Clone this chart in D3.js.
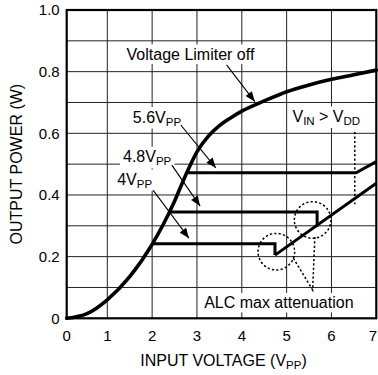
<!DOCTYPE html>
<html><head><meta charset="utf-8">
<script src="https://cdn.jsdelivr.net/npm/d3@7"></script>
<style>html,body{margin:0;padding:0;background:#fff;} svg{display:block;font-family:"Liberation Sans",Arial,Helvetica,sans-serif;}</style>
</head><body><svg id="c" width="378" height="375"></svg>
<script>
// ---- data ----
const xTickValues = [0, 1, 2, 3, 4, 5, 6, 7];
const xTickLabels = ["0", "1", "2", "3", "4", "5", "6", "7"];
const yTickValues = [0, 0.2, 0.4, 0.6, 0.8, 1.0];
const yTickLabels = ["0", "0.2", "0.4", "0.6", "0.8", "1.0"];
const yGridValues = [0.1, 0.2, 0.3, 0.4, 0.5, 0.6, 0.7, 0.8, 0.9];
const xGridValues = [1, 2, 3, 4, 5, 6];

// Voltage limiter off curve
const limiterOffV = [0, 0.5, 1, 1.5, 2, 2.25, 2.5, 2.75, 3, 3.25, 3.5, 3.75, 4, 4.5, 5, 5.5, 6, 6.5, 7];
const limiterOffP = [0, 0.015, 0.06, 0.135, 0.24, 0.305, 0.38, 0.465, 0.54, 0.59, 0.625, 0.65, 0.672, 0.705, 0.735, 0.757, 0.775, 0.79, 0.805];

// limiter settings
const lim4V = [2.0, 4.74, 4.74];
const lim4P = [0.242, 0.242, 0.205];
const lim48V = [2.40, 5.68, 5.68];
const lim48P = [0.345, 0.345, 0.297];
const lim56V = [2.755, 6.55, 7];
const lim56P = [0.472, 0.472, 0.508];
const alcRiseV = [4.74, 7];
const alcRiseP = [0.205, 0.438];

// annotations (data units)
const vddMarkV = [6.52, 6.52];
const vddMarkP = [0.604, 0.37];
const circleV = [4.77, 5.58];
const circleP = [0.216, 0.319];
const connectorV = [5.15, 5.58, 5.63];
const connectorP = [0.195, 0.092, 0.265];

const arrowFromV = [3.66, 2.64, 2.44, 2.02];
const arrowFromP = [0.822, 0.627, 0.497, 0.416];
const arrowToV = [4.29, 3.42, 3.07, 2.82];
const arrowToP = [0.703, 0.488, 0.364, 0.26];

const labelParts = [
  [["Voltage Limiter off", false]],
  [["5.6V", false], ["PP", true]],
  [["4.8V", false], ["PP", true]],
  [["4V", false], ["PP", true]],
  [["V", false], ["IN", true], [" > V", false], ["DD", true]],
  [["ALC max attenuation", false]]
];
const labelV = [1.43, 1.57, 1.35, 1.22, 5.13, 3.16];
const labelP = [0.838, 0.635, 0.506, 0.432, 0.637, 0.032];

const xTitle = [["INPUT VOLTAGE (V", false], ["PP", true], [")", false]];
const yTitle = "OUTPUT POWER (W)";

// ---- drawing ----
const svg = d3.select("#c");
const x = d3.scaleLinear().domain([0, 1, 7]).range([66.7, 107.3, 376.3]);
const y = d3.scaleLinear().domain([0, 1]).range([318.3, 10]);

svg.append("rect").attr("width", 378).attr("height", 375).attr("fill", "#fff");

const defs = svg.append("defs");
defs.append("marker").attr("id", "ah").attr("viewBox", "0 0 10 8")
  .attr("refX", 10).attr("refY", 4).attr("markerWidth", 11).attr("markerHeight", 8)
  .attr("markerUnits", "userSpaceOnUse").attr("orient", "auto")
  .append("path").attr("d", "M0,0L10,4L0,8Z").attr("fill", "#000");

// grid
const grid = svg.append("g").attr("stroke", "#222").attr("stroke-width", 1);
grid.selectAll(".vg").data(xGridValues).join("line")
  .attr("x1", d => x(d)).attr("x2", d => x(d)).attr("y1", y(0)).attr("y2", y(1));
grid.selectAll(".hg").data(yGridValues).join("line")
  .attr("x1", x(0)).attr("x2", x(7)).attr("y1", d => y(d)).attr("y2", d => y(d));

function addText(g, px, py, parts, size, subSize, anchor) {
  const t = g.append("text").attr("x", px).attr("y", py)
    .attr("font-size", size).attr("fill", "#000");
  if (anchor) t.attr("text-anchor", anchor);
  let prevSub = false;
  parts.forEach(([s, sub]) => {
    const ts = t.append("tspan").text(s);
    if (sub) ts.attr("font-size", subSize);
    if (sub && !prevSub) ts.attr("dy", 3);
    if (!sub && prevSub) ts.attr("dy", -3);
    prevSub = sub;
  });
  return t;
}
const boxG = svg.append("g");
const textG = svg.append("g");

const labelNodes = labelParts.map((parts, i) =>
  addText(textG, x(labelV[i]), y(labelP[i]), parts, 16, 11.5, null));
labelNodes.forEach(t => {
  const b = t.node().getBBox();
  boxG.append("rect").attr("x", b.x - 3).attr("y", b.y - 1.5)
    .attr("width", b.width + 6).attr("height", b.height + 2.5).attr("fill", "#fff");
});

// plot border
svg.append("rect").attr("x", x(0)).attr("y", y(1)).attr("width", x(7) - x(0)).attr("height", y(0) - y(1))
  .attr("fill", "none").attr("stroke", "#000").attr("stroke-width", 2.2);

const lineGen = d3.line().x(d => x(d[0])).y(d => y(d[1]));
const zip = (a, b) => a.map((v, i) => [v, b[i]]);

// curves
const curveG = svg.append("g").attr("fill", "none").attr("stroke", "#000");
curveG.append("path").datum(zip(limiterOffV, limiterOffP))
  .attr("d", d3.line().x(d => x(d[0])).y(d => y(d[1])).curve(d3.curveMonotoneX))
  .attr("stroke-width", 3.6).attr("stroke-linecap", "round");
[[lim4V, lim4P], [lim48V, lim48P], [lim56V, lim56P], [alcRiseV, alcRiseP]].forEach(([v, p]) => {
  curveG.append("path").datum(zip(v, p)).attr("d", lineGen)
    .attr("stroke-width", 3).attr("stroke-linejoin", "miter");
});

// dotted annotations
const dotG = svg.append("g").attr("fill", "none").attr("stroke", "#000")
  .attr("stroke-width", 1.5).attr("stroke-dasharray", "2.2,2.2");
dotG.append("path").datum(zip(vddMarkV, vddMarkP)).attr("d", lineGen);
dotG.selectAll("circle").data(zip(circleV, circleP)).join("circle")
  .attr("cx", d => x(d[0])).attr("cy", d => y(d[1])).attr("r", 18.3);
dotG.append("path").datum(zip(connectorV, connectorP)).attr("d", lineGen);

// arrows
const arrG = svg.append("g").attr("stroke", "#000").attr("stroke-width", 1.1);
arrowFromV.forEach((v, i) => {
  arrG.append("line").attr("x1", x(v)).attr("y1", y(arrowFromP[i]))
    .attr("x2", x(arrowToV[i])).attr("y2", y(arrowToP[i])).attr("marker-end", "url(#ah)");
});

// axes tick labels (last one kept inside the window)
const tickG = svg.append("g").attr("font-size", 15).attr("fill", "#000");
tickG.selectAll(".xt").data(xTickValues).join("text")
  .attr("x", d => Math.min(x(d), 373)).attr("y", 341).attr("text-anchor", "middle").text((d, i) => xTickLabels[i]);
tickG.selectAll(".yt").data(yTickValues).join("text")
  .attr("x", x(0) - 7).attr("y", d => y(d)).attr("dy", "0.36em").attr("text-anchor", "end")
  .text((d, i) => yTickLabels[i]);

// axis titles
addText(svg, (x(0) + x(7)) / 2 + 2, 366, xTitle, 16, 11.5, "middle");
svg.append("text").attr("transform", `translate(22,${(y(0) + y(1)) / 2}) rotate(-90)`)
  .attr("text-anchor", "middle").attr("font-size", 16).text(yTitle);
</script></body></html>
